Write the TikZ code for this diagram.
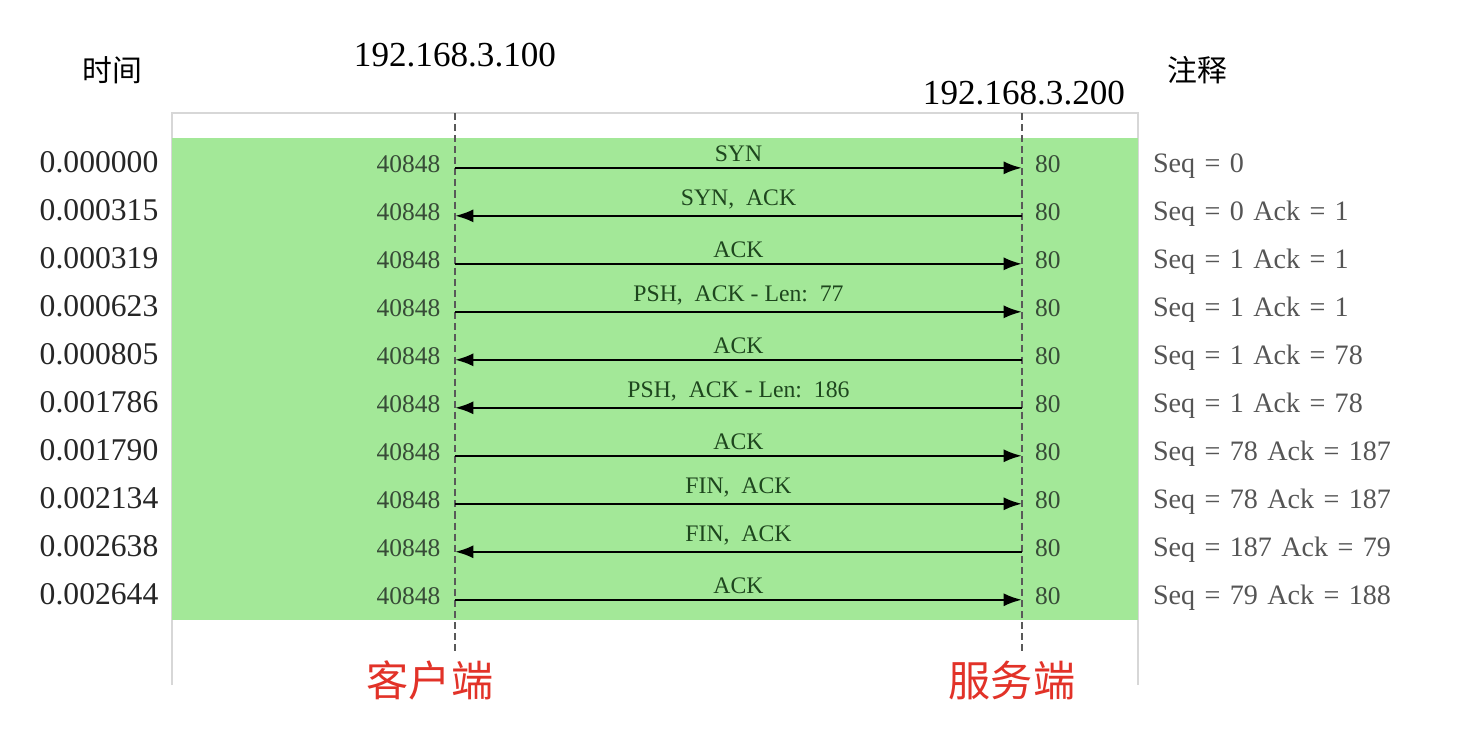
\documentclass[tikz,border=0pt]{standalone}
\usepackage{fontspec}
\setmainfont{Liberation Serif}
\newfontfamily\cjk{Noto Sans CJK SC}
\usepackage{tikz}
\usetikzlibrary{matrix,arrows.meta}

\definecolor{tcpgreen}{RGB}{163,232,152}
\definecolor{framegray}{RGB}{215,215,215}
\definecolor{portgreen}{RGB}{55,75,55}
\definecolor{lblgreen}{RGB}{30,70,30}
\definecolor{notegray}{RGB}{85,85,85}
\definecolor{sidered}{RGB}{226,50,40}

\newcommand\tcptime{\fontsize{18pt}{20pt}\selectfont}
\newcommand\tcpport{\fontsize{14.5pt}{16pt}\selectfont}
\newcommand\tcpnote{\fontsize{16pt}{18pt}\selectfont}
\newcommand\tcplbl{\fontsize{13.5pt}{15pt}\selectfont}

\tikzset{
  life/.style={draw=black!65, line width=0.7pt, dash pattern=on 4pt off 2.3pt},
  msg/.style={draw=black, line width=1.4pt, >={Latex[length=10.5pt,width=7.5pt]},
              transform canvas={yshift=-0.03cm}},
  lbl/.style={above, inner sep=3pt, text=lblgreen, font=\tcplbl}
}

\begin{document}
\begin{tikzpicture}[x=0.02cm,y=-0.02cm]
\useasboundingbox (0,0) rectangle (1468,728);
\fill[white] (0,0) rectangle (1468,728);

% frame and green band
\draw[framegray, line width=1pt] (172,685) -- (172,113) -- (1138,113) -- (1138,685);
\fill[tcpgreen] (172,138) rectangle (1138,620);

% headers
\node[font=\cjk\fontsize{17pt}{19pt}\selectfont] (timehd) at (112,70) {时间};
\node[font=\cjk\fontsize{17pt}{19pt}\selectfont] (notehd) at (1197,70) {注释};
\node[font=\fontsize{20pt}{22pt}\selectfont] (cliip) at (455,55) {192.168.3.100};
\node[font=\fontsize{20pt}{22pt}\selectfont] (srvip) at (1024,93) {192.168.3.200};

% lifelines
\coordinate (cli) at (455,113);
\coordinate (srv) at (1022,113);
\coordinate (cliend) at (455,655);
\coordinate (srvend) at (1022,655);
\draw[life] (cli) -- (cliend);
\draw[life] (srv) -- (srvend);

\matrix (m) [matrix of nodes, anchor=north west, inner sep=0pt, column sep=0pt, row sep=0pt,
  nodes={inner sep=0pt, minimum height=0.96cm, text height=0.68em, text depth=0pt},
  column 1/.style={nodes={text width=3cm, align=right, font=\tcptime, text=black!85}},
  column 2/.style={nodes={text width=2cm, align=right, font=\tcpport, text=portgreen}},
  column 3/.style={nodes={text width=1.6cm, align=left, font=\tcpport, text=portgreen}},
  column 4/.style={nodes={text width=5.6cm, align=left, font=\tcpnote, text=notegray}}]
  at (8,142)
{
0.000000 &[3.64cm] 40848 &[11.9cm] 80 &[0.76cm] Seq = 0 \\
0.000315 & 40848 & 80 & Seq = 0 Ack = 1 \\
0.000319 & 40848 & 80 & Seq = 1 Ack = 1 \\
0.000623 & 40848 & 80 & Seq = 1 Ack = 1 \\
0.000805 & 40848 & 80 & Seq = 1 Ack = 78 \\
0.001786 & 40848 & 80 & Seq = 1 Ack = 78 \\
0.001790 & 40848 & 80 & Seq = 78 Ack = 187 \\
0.002134 & 40848 & 80 & Seq = 78 Ack = 187 \\
0.002638 & 40848 & 80 & Seq = 187 Ack = 79 \\
0.002644 & 40848 & 80 & Seq = 79 Ack = 188 \\
};

% segments
\draw[msg, ->] (m-1-2 -| cli) -- node[lbl] {SYN} (m-1-2 -| srv);
\draw[msg, <-] (m-2-2 -| cli) -- node[lbl] {SYN,\enspace ACK} (m-2-2 -| srv);
\draw[msg, ->] (m-3-2 -| cli) -- node[lbl] {ACK} (m-3-2 -| srv);
\draw[msg, ->] (m-4-2 -| cli) -- node[lbl] {PSH,\enspace ACK - Len:\enspace 77} (m-4-2 -| srv);
\draw[msg, <-] (m-5-2 -| cli) -- node[lbl] {ACK} (m-5-2 -| srv);
\draw[msg, <-] (m-6-2 -| cli) -- node[lbl] {PSH,\enspace ACK - Len:\enspace 186} (m-6-2 -| srv);
\draw[msg, ->] (m-7-2 -| cli) -- node[lbl] {ACK} (m-7-2 -| srv);
\draw[msg, ->] (m-8-2 -| cli) -- node[lbl] {FIN,\enspace ACK} (m-8-2 -| srv);
\draw[msg, <-] (m-9-2 -| cli) -- node[lbl] {FIN,\enspace ACK} (m-9-2 -| srv);
\draw[msg, ->] (m-10-2 -| cli) -- node[lbl] {ACK} (m-10-2 -| srv);

% sides
\node[font=\cjk\fontsize{24pt}{26pt}\selectfont, text=sidered] (client) at (430,680) {客户端};
\node[font=\cjk\fontsize{24pt}{26pt}\selectfont, text=sidered] (server) at (1012,680) {服务端};
\end{tikzpicture}
\end{document}
